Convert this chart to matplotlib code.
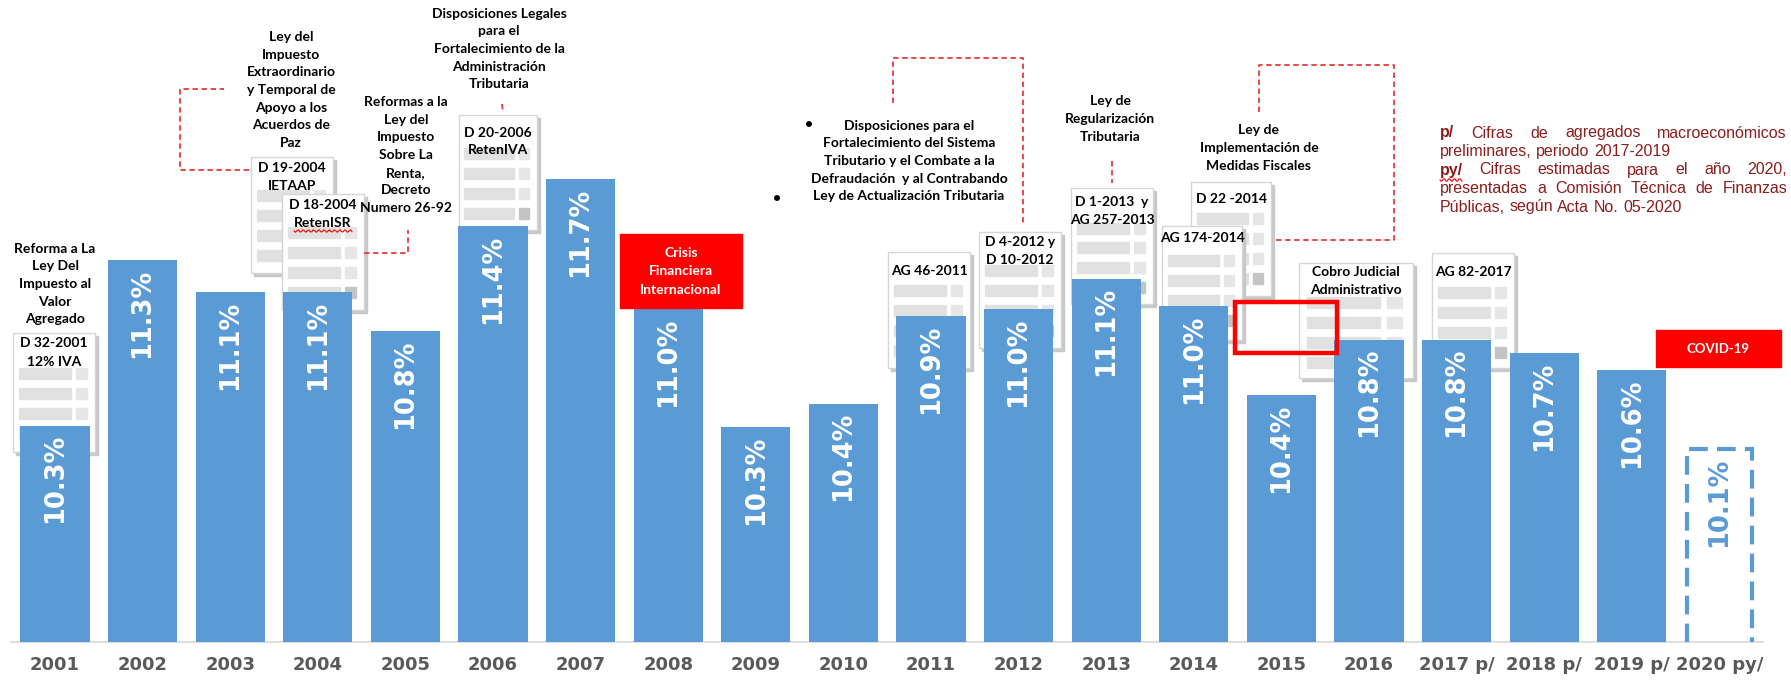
import numpy as np
import matplotlib
matplotlib.use("Agg")
import matplotlib.pyplot as plt
import matplotlib.transforms as mtransforms
from matplotlib.patches import Rectangle

years = ["2001", "2002", "2003", "2004", "2005", "2006", "2007", "2008", "2009", "2010",
         "2011", "2012", "2013", "2014", "2015", "2016", "2017 p/", "2018 p/", "2019 p/", "2020 py/"]
values = [10.27, 11.25, 11.06, 11.06, 10.83, 11.45, 11.73, 10.96, 10.26, 10.40,
          10.92, 10.96, 11.14, 10.98, 10.45, 10.78, 10.78, 10.70, 10.60, 10.13]
labels = ["10.3%", "11.3%", "11.1%", "11.1%", "10.8%", "11.4%", "11.7%", "11.0%", "10.3%", "10.4%",
          "10.9%", "11.0%", "11.1%", "11.0%", "10.4%", "10.8%", "10.8%", "10.7%", "10.6%", "10.1%"]

# textos de leyes (texto, x, y centro en pixeles de la imagen)
notes = [
    ("Reforma a La\nLey Del\nImpuesto al\nValor\nAgregado", 55, 284),
    ("Ley del\nImpuesto\nExtraordinario\ny Temporal de\nApoyo a los\nAcuerdos de\nPaz", 291, 90),
    ("Reformas a la\nLey del\nImpuesto\nSobre La\nRenta,\nDecreto\nNumero 26-92", 406, 155),
    ("Disposiciones Legales\npara el\nFortalecimiento de la\nAdministración\nTributaria", 499, 49),
    ("Disposiciones para el\nFortalecimiento del Sistema\nTributario y el Combate a la\n"
     "Defraudación  y al Contrabando\nLey de Actualización Tributaria", 909, 161),
    ("Ley de\nRegularización\nTributaria", 1110, 119),
    ("Ley de\nImplementación de\nMedidas Fiscales", 1259, 148),
]

# iconos de documento: x0, y0, x1, y1, titulo, y del titulo, filas, z
icons = [
    (13, 333, 95, 452, ["D 32-2001", "12% IVA"], [343, 362], [373, 393, 413, 433], 1.0),
    (251, 157, 333, 273, ["D 19-2004", "IETAAP"], [168, 186], [195, 215, 235, 255], 1.0),
    (282, 194, 364, 310, ["D 18-2004", "RetenISR"], [205, 223], [232, 252, 272, 292], 1.5),
    (459, 115, 537, 230, ["D 20-2006", "RetenIVA"], [133, 150], [153, 173, 193, 213], 1.0),
    (888, 252, 970, 368, ["AG 46-2011"], [271], [290, 310, 330, 350], 1.0),
    (979, 232, 1061, 348, ["D 4-2012 y", "D 10-2012"], [242, 260], [270, 290, 310, 330], 1.0),
    (1071, 188, 1153, 304, ["D 1-2013  y", "AG 257-2013"], [202, 220], [228, 247, 267, 287], 1.0),
    (1191, 182, 1271, 296, ["D 22 -2014"], [199], [218, 238, 258, 278], 1.0),
    (1162, 226, 1242, 340, ["AG 174-2014"], [238], [260, 280, 300, 320], 1.5),
    (1299, 263, 1413, 378, ["Cobro Judicial", "Administrativo"], [272, 290], [302, 322, 342, 362], 1.0),
    (1432, 253, 1514, 368, ["AG 82-2017"], [272], [292, 312, 332, 352], 1.0),
]

connectors = [
    [(249, 170), (180, 170), (180, 89), (224, 89)],
    [(364, 253), (408, 253), (408, 230)],
    [(502, 104), (503, 113)],
    [(893, 103), (893, 58), (1023, 58), (1023, 225)],
    [(1112, 161), (1112, 183)],
    [(1259, 112), (1259, 65), (1394, 65), (1394, 240), (1273, 240)],
]

foot_lines = [
    (["p/", "Cifras", "de", "agregados", "macroeconómicos"], True),
    (["preliminares,", "periodo", "2017-2019"], False),
    (["py/", "Cifras", "estimadas", "para", "el", "año", "2020,"], True),
    (["presentadas", "a", "Comisión", "Técnica", "de", "Finanzas"], True),
    (["Públicas,", "según", "Acta", "No.", "05-2020"], False),
]

plt.rcParams['font.family'] = ['Lato', 'DejaVu Sans']

W, H = 1791, 683
fig = plt.figure(figsize=(W / 100, H / 100), dpi=100)
ax = fig.add_axes([11.2 / W, 41 / H, 1752 / W, 642 / H])
px = mtransforms.Affine2D().scale(1 / W, -1 / H).translate(0, 1) + fig.transFigure

blue = "#5B9BD5"
red = "#FF0000"
x = np.arange(len(years))

ax.bar(x[:-1], values[:-1], width=0.79, color=blue, zorder=3)
ax.bar(x[-1], values[-1], width=0.75, fill=False, edgecolor=blue, linewidth=3,
       linestyle=(0, (4.5, 2.2)), zorder=3)

for i, (v, lab) in enumerate(zip(values, labels)):
    col = "white" if i < len(values) - 1 else blue
    ax.annotate(lab, (i, v), xytext=(0, -6), textcoords="offset points", rotation=90,
                ha="center", va="top", color=col, fontsize=18.5, fontweight="bold",
                family="DejaVu Sans", zorder=5)

ax.set_xlim(-0.5, len(years) - 0.5)
ax.set_ylim(8.99, 12.79)
ax.set_xticks(x, years)
ax.set_yticks([])
ax.tick_params(axis="x", length=0, pad=10)
for t in ax.get_xticklabels():
    t.set_fontsize(13)
    t.set_fontweight("bold")
    t.set_color("#595959")
    t.set_family("DejaVu Sans")
for s in ["top", "left", "right"]:
    ax.spines[s].set_visible(False)
ax.spines["bottom"].set_color("#D9D9D9")
ax.spines["bottom"].set_linewidth(1.2)
ax.patch.set_alpha(0)


def wavy(x0, x1, y0, z=7):
    xs = np.linspace(x0, x1, 40)
    ys = y0 + 1.3 * np.sin((xs - x0) * 1.2)
    ax.plot(xs, ys, transform=px, color=red, lw=0.8, zorder=z, clip_on=False)


def doc_icon(x0, y0, x1, y1, title, ty, rows, z):
    w, h = x1 - x0, y1 - y0
    ax.add_patch(Rectangle((x0 + 3, y0 + 3), w, h, transform=px, color="#C8C8C8",
                           zorder=z, clip_on=False))
    ax.add_patch(Rectangle((x0, y0), w, h, transform=px, facecolor="white",
                           edgecolor="#D6D6D6", lw=1, zorder=z, clip_on=False))
    for k, ry in enumerate(rows):
        ax.add_patch(Rectangle((x0 + 0.07 * w, ry - 5), 0.64 * w, 11, transform=px,
                               color="#E1E1E1", zorder=z, clip_on=False))
        sq = "#C4C4C4" if k == len(rows) - 1 else "#E6E6E6"
        ax.add_patch(Rectangle((x0 + 0.77 * w, ry - 5), 0.13 * w, 11, transform=px,
                               color=sq, zorder=z, clip_on=False))
    for t, yy in zip(title, ty):
        ax.text((x0 + x1) / 2, yy, t, transform=px, ha="center", va="center",
                fontsize=10, fontweight="bold", color="black", zorder=z + 0.1, clip_on=False)


for ic in icons:
    doc_icon(*ic)
wavy(294, 352, 231, z=2)

for txt, cx, cy in notes:
    ax.text(cx, cy, txt, transform=px, ha="center", va="center", fontsize=10,
            fontweight="bold", linespacing=1.57, color="black", zorder=6, clip_on=False)
ax.text(809, 124, "•", transform=px, ha="center", va="center", fontsize=10,
        fontweight="bold", zorder=6, clip_on=False)
ax.text(777, 198, "•", transform=px, ha="center", va="center", fontsize=10,
        fontweight="bold", zorder=6, clip_on=False)

for pts in connectors:
    xs, ys = zip(*pts)
    ax.plot(xs, ys, transform=px, color="#E63B3B", lw=1.3, linestyle=(0, (3, 2)),
            zorder=6, clip_on=False)

# cuadros rojos
ax.add_patch(Rectangle((620, 234), 122, 74, transform=px, color=red, zorder=7, clip_on=False))
for t, yy in zip(["Crisis", "Financiera", "Internacional"], [253, 271, 290]):
    ax.text(681, yy, t, transform=px, ha="center", va="center", fontsize=10,
            fontweight="bold", color="white", zorder=8, clip_on=False)
ax.add_patch(Rectangle((1656, 330), 125, 37, transform=px, color=red, zorder=7, clip_on=False))
ax.text(1718, 349, "COVID-19", transform=px, ha="center", va="center", fontsize=9.5,
        fontweight="bold", color="white", zorder=8, clip_on=False)
ax.add_patch(Rectangle((1235, 302), 102, 51, transform=px, fill=False, edgecolor=red,
                       lw=3.2, zorder=7, clip_on=False))

# nota al pie justificada
renderer = fig.canvas.get_renderer()
foot_col = "#8B1D1D"
xl, xr = 1440, 1787
for (words, just), yy in zip(foot_lines, [133, 151.5, 170, 188.5, 207]):
    arts = []
    for k, wd in enumerate(words):
        bold = k == 0 and wd in ("p/", "py/")
        arts.append(fig.text(0, 0, wd, transform=px, ha="left", va="center", fontsize=11.5,
                             family="Liberation Sans", color=foot_col,
                             fontweight="bold" if bold else "normal"))
    widths = [a.get_window_extent(renderer).width for a in arts]
    if just:
        gap = (xr - xl - sum(widths)) / (len(words) - 1)
    else:
        gap = 4.4
    pos = xl
    for a, wd in zip(arts, widths):
        a.set_position((pos, yy))
        pos += wd + gap
wavy(1440, 1462, 180)

fig.savefig("out.png", dpi=100)
